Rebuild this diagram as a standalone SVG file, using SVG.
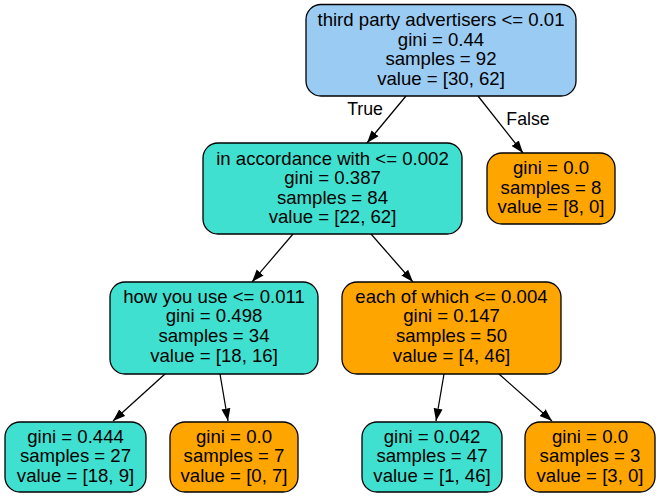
<svg xmlns="http://www.w3.org/2000/svg" width="660" height="497" viewBox="0 0 660 497">
<style>
.n{stroke:#000;stroke-width:1.3}
.b{fill:#9acbf2}
.t{fill:#40e0d0}
.o{fill:#ffa500}
text{font-family:"Liberation Sans",Arial,sans-serif;font-size:18.6px;fill:#000;text-anchor:middle}
text.l{font-size:17.7px}
.e{stroke:#000;stroke-width:1.25;fill:none;marker-end:url(#ah)}
</style>
<defs>
<marker id="ah" markerUnits="userSpaceOnUse" markerWidth="13" markerHeight="10" refX="12.5" refY="4.5" orient="auto" viewBox="0 0 13 9">
<path d="M0,0 L12.5,4.5 L0,9 z" fill="#000"/>
</marker>
</defs>
<rect width="660" height="497" fill="#fff"/>
<g id="edges">
<line class="e" x1="406" y1="96" x2="367" y2="143"/>
<text class="l" x="365" y="115">True</text>
<line class="e" x1="478" y1="96" x2="523" y2="153"/>
<text class="l" x="528" y="125">False</text>
<line class="e" x1="293" y1="234" x2="252" y2="282"/>
<line class="e" x1="371" y1="234" x2="413" y2="282"/>
<line class="e" x1="165" y1="374" x2="113" y2="421"/>
<line class="e" x1="220" y1="374" x2="228" y2="421"/>
<line class="e" x1="444" y1="374" x2="436" y2="421"/>
<line class="e" x1="499" y1="374" x2="552" y2="421"/>
</g>
<g id="node0">
<rect class="n b" x="306" y="4.5" width="270" height="91.5" rx="15"/>
<text x="441" y="26">third party advertisers &lt;= 0.01</text>
<text x="441" y="45.7">gini = 0.44</text>
<text x="441" y="65.3">samples = 92</text>
<text x="441" y="85">value = [30, 62]</text>
</g>
<g id="node1">
<rect class="n t" x="203" y="143" width="259" height="91" rx="15"/>
<text x="332.5" y="164.5">in accordance with &lt;= 0.002</text>
<text x="332.5" y="184.2">gini = 0.387</text>
<text x="332.5" y="203.6">samples = 84</text>
<text x="332.5" y="223.3">value = [22, 62]</text>
</g>
<g id="node2">
<rect class="n o" x="487" y="153" width="128" height="71" rx="15"/>
<text x="551" y="174.2">gini = 0.0</text>
<text x="551" y="193.7">samples = 8</text>
<text x="551" y="213.2">value = [8, 0]</text>
</g>
<g id="node3">
<rect class="n t" x="110" y="282" width="208" height="92" rx="15"/>
<text x="214" y="302.7">how you use &lt;= 0.011</text>
<text x="214" y="322.4">gini = 0.498</text>
<text x="214" y="342">samples = 34</text>
<text x="214" y="362">value = [18, 16]</text>
</g>
<g id="node4">
<rect class="n o" x="342" y="282" width="219" height="92" rx="15"/>
<text x="451.5" y="302.7">each of which &lt;= 0.004</text>
<text x="451.5" y="322.4">gini = 0.147</text>
<text x="451.5" y="342">samples = 50</text>
<text x="451.5" y="362">value = [4, 46]</text>
</g>
<g id="node5">
<rect class="n t" x="5" y="422" width="141" height="70" rx="15"/>
<text x="75.5" y="442.7">gini = 0.444</text>
<text x="75.5" y="462.2">samples = 27</text>
<text x="75.5" y="481.7">value = [18, 9]</text>
</g>
<g id="node6">
<rect class="n o" x="170" y="422" width="128" height="70" rx="15"/>
<text x="234" y="442.7">gini = 0.0</text>
<text x="234" y="462.2">samples = 7</text>
<text x="234" y="481.7">value = [0, 7]</text>
</g>
<g id="node7">
<rect class="n t" x="362" y="422" width="140" height="70" rx="15"/>
<text x="432" y="442.7">gini = 0.042</text>
<text x="432" y="462.2">samples = 47</text>
<text x="432" y="481.7">value = [1, 46]</text>
</g>
<g id="node8">
<rect class="n o" x="525" y="422" width="130" height="70" rx="15"/>
<text x="590" y="442.7">gini = 0.0</text>
<text x="590" y="462.2">samples = 3</text>
<text x="590" y="481.7">value = [3, 0]</text>
</g>
</svg>
